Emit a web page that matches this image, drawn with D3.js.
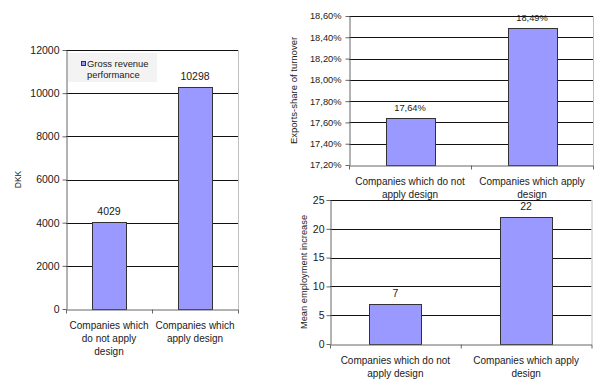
<!DOCTYPE html>
<html>
<head>
<meta charset="utf-8">
<script src="https://cdn.jsdelivr.net/npm/d3@7"></script>
<style>
  body { margin: 0; background: #fff; }
  svg text { font-family: "Liberation Sans", Arial, sans-serif; fill: #1a1a1a; }
</style>
</head>
<body>
<svg id="chart" width="600" height="388"></svg>
<script>
//data
var categories = ["Companies which do not apply design", "Companies which apply design"];
//line breaks used under each chart
var labelsNarrow = [["Companies which", "do not apply", "design"], ["Companies which", "apply design"]];
var labelsWide = [["Companies which do not", "apply design"], ["Companies which apply", "design"]];

var revenueValues = [4029, 10298];
var revenueTicks = [0, 2000, 4000, 6000, 8000, 10000, 12000];

var exportValues = [17.64, 18.49];
var exportTicks = [17.2, 17.4, 17.6, 17.8, 18.0, 18.2, 18.4, 18.6];

var employmentValues = [7, 22];
var employmentTicks = [0, 5, 10, 15, 20, 25];

var barFill = "#9999ff";
var svg = d3.select("#chart");

var comma = d3.formatLocale({decimal: ",", thousands: ".", grouping: [3], currency: ["", ""]});
var pct = function(d){ return comma.format(".2f")(d) + "%"; };

function drawChart(c){
	var g = svg.append("g");
	var y = d3.scaleLinear().domain([c.ticks[0], c.ticks[c.ticks.length - 1]]).range([c.bottom, c.top]);
	var x = d3.scaleBand().domain(categories).range([c.left, c.right]).paddingInner(0.6).paddingOuter(0.3);
	var edge = d3.scaleLinear().domain([0, categories.length]).range([c.left, c.right]);

	//legend sits under the gridlines' top edge
	if (c.legend) {
		g.append("rect").attr("x", c.left + 2).attr("y", c.top + 3)
			.attr("width", 89).attr("height", 29).attr("fill", "#f3f3f3");
		g.append("rect").attr("x", c.left + 15.5).attr("y", c.top + 11.5)
			.attr("width", 4).attr("height", 4).attr("fill", barFill).attr("stroke", "#333");
		g.selectAll(".leg").data(c.legend).enter().append("text")
			.attr("x", c.left + 21).attr("y", function(d, i){ return c.top + 17 + i * 11; })
			.style("font-size", "9.4px").text(function(d){ return d; });
	}

	//gridlines
	g.selectAll(".grid").data(c.ticks.slice(1)).enter().append("line")
		.attr("x1", c.left).attr("x2", c.right)
		.attr("y1", function(d){ return Math.round(y(d)) + 0.5; })
		.attr("y2", function(d){ return Math.round(y(d)) + 0.5; })
		.attr("stroke", "#111").attr("stroke-width", 1);

	//right border of the plot area
	g.append("line").attr("x1", c.right + 0.5).attr("x2", c.right + 0.5)
		.attr("y1", c.top).attr("y2", c.bottom).attr("stroke", "#c0c0c0");

	//bars
	g.selectAll(".bar").data(c.values).enter().append("rect")
		.attr("x", function(d, i){ return Math.round(x(categories[i])) + 0.5; })
		.attr("width", Math.round(x.bandwidth()))
		.attr("y", function(d){ return Math.round(y(d)) + 0.5; })
		.attr("height", function(d){ return Math.round(c.bottom - y(d)); })
		.attr("fill", barFill).attr("stroke", "#333").attr("stroke-width", 1);

	//value labels
	g.selectAll(".val").data(c.values).enter().append("text")
		.attr("x", function(d, i){ return x(categories[i]) + x.bandwidth() / 2; })
		.attr("y", function(d){ return y(d) - 7; })
		.attr("text-anchor", "middle").style("font-size", c.numSize)
		.text(c.format);

	//y axis
	var yAxis = g.append("g").attr("transform", "translate(" + (c.left + 0.5) + ",0)")
		.call(d3.axisLeft(y).tickValues(c.ticks).tickFormat(c.format).tickSize(4).tickSizeOuter(0).tickPadding(c.pad));
	yAxis.selectAll("path, line").attr("stroke", "#666");
	yAxis.selectAll("text").style("font-size", c.numSize).attr("fill", "#1a1a1a");
	yAxis.attr("font-family", null);

	//x axis, ticks at category edges
	var xAxis = g.append("g").attr("transform", "translate(0," + (Math.round(c.bottom) + 0.5) + ")")
		.call(d3.axisBottom(edge).tickValues(d3.range(categories.length + 1)).tickFormat("").tickSize(4).tickSizeOuter(0));
	xAxis.selectAll("path, line").attr("stroke", "#666");

	//category labels
	var cat = g.selectAll(".cat").data(c.labels).enter().append("text")
		.attr("text-anchor", "middle").style("font-size", "10px")
		.attr("transform", function(d, i){
			return "translate(" + (x(categories[i]) + x.bandwidth() / 2) + "," + (c.bottom + 20) + ")";
		});
	cat.selectAll("tspan").data(function(d){ return d; }).enter().append("tspan")
		.attr("x", 0).attr("y", function(d, i){ return i * 13; })
		.text(function(d){ return d; });

	//y title
	g.append("text")
		.attr("transform", "translate(" + c.titleX + "," + ((c.top + c.bottom) / 2) + ") rotate(-90)")
		.attr("text-anchor", "middle").attr("dy", "0.35em")
		.style("font-size", c.titleSize).text(c.title);
}

drawChart({
	left: 66, right: 238, top: 50, bottom: 309,
	values: revenueValues, ticks: revenueTicks, labels: labelsNarrow,
	format: d3.format("d"), numSize: "10.5px", pad: 3,
	title: "DKK", titleX: 18, titleSize: "8.5px",
	legend: ["Gross revenue", "performance"]
});

drawChart({
	left: 349, right: 593, top: 16, bottom: 165,
	values: exportValues, ticks: exportTicks, labels: labelsWide,
	format: pct, numSize: "9.3px", pad: 4,
	title: "Exports-share of turnover", titleX: 293.5, titleSize: "9.5px"
});

drawChart({
	left: 330, right: 591.5, top: 200, bottom: 344,
	values: employmentValues, ticks: employmentTicks, labels: labelsWide,
	format: d3.format("d"), numSize: "10.5px", pad: 2,
	title: "Mean employment increase", titleX: 303.7, titleSize: "9.3px"
});
</script>
</body>
</html>
